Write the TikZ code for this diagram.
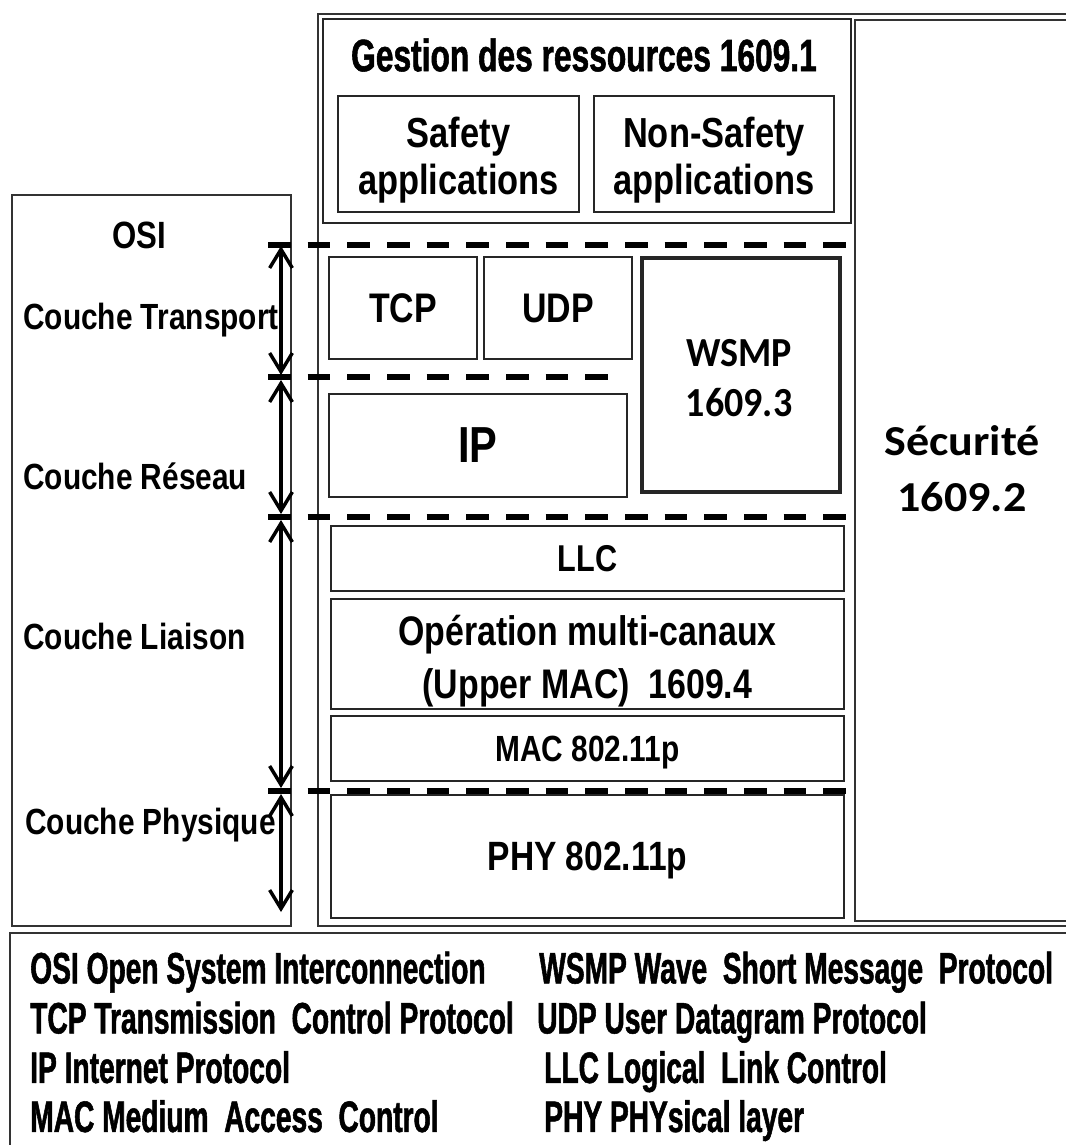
\documentclass[tikz,border=0pt]{standalone}
\usepackage{fontspec}
\setmainfont{Liberation Sans}
\newfontfamily\labfont[FakeStretch=0.82]{Liberation Sans}
\newfontfamily\condfont[FakeStretch=0.64,FakeBold=1.2]{Liberation Sans}
\newfontfamily\titlefont[FakeStretch=0.70,FakeBold=1.2]{Liberation Sans}
\newfontfamily\calfont[FakeStretch=0.92]{Carlito}
\newfontfamily\secfont[FakeStretch=1.08]{Carlito}
\usetikzlibrary{arrows.meta}

\tikzset{
  box/.style={draw=black!85, line width=1.1pt, inner sep=0pt, align=center,
    text depth=0pt, font=\labfont\bfseries\fontsize{31}{35}\selectfont},
  boxtext/.style={inner sep=0pt, align=center},
  frame/.style={draw=black!80, line width=1.1pt},
  layerline/.style={line width=4.2pt, dash pattern=on 17pt off 12.75pt},
  layerspan/.style={line width=2.6pt,
    {Straight Barb[length=14pt,width=17pt]}-{Straight Barb[length=14pt,width=17pt]}},
  couche/.style={anchor=west, inner sep=0pt, text depth=0pt,
    font=\labfont\bfseries\fontsize{27.3}{30}\selectfont},
  legend/.style={anchor=west, inner sep=0pt, text depth=0pt,
    font=\condfont\bfseries\fontsize{33}{40}\selectfont},
}

\begin{document}
\begin{tikzpicture}[x=0.75pt,y=-0.75pt]
\useasboundingbox (0,0) rectangle (1066,1145);
\clip (0,0) rectangle (1066,1145);

% outer frames
\draw[frame] (318,14) rectangle (1090,926);
\draw[frame] (855,20) rectangle (1090,921);
\draw[frame] (12,195) rectangle (291,926);
\draw[frame] (10,933) rectangle (1090,1170);

% resource management block
\node[box, minimum width=396pt, minimum height=153pt] (gestion) at (587,121) {};
\node[font=\titlefont\bfseries\fontsize{34}{40}\selectfont, inner sep=0pt]
  (gtitle) at (584,55) {Gestion des ressources 1609.1};
\node[box, minimum width=180.75pt, minimum height=87pt] (safety) at (458.5,154) {};
\node[boxtext, font=\labfont\bfseries\fontsize{31.5}{35}\selectfont]
  (safetytxt) at (458.5,160) {Safety\\applications};
\node[box, minimum width=180pt, minimum height=87pt] (nonsafety) at (714,154) {};
\node[boxtext, font=\labfont\bfseries\fontsize{31.5}{35}\selectfont]
  (nonsafetytxt) at (714,160) {Non-Safety\\applications};

% transport and network
\node[box, minimum width=111pt, minimum height=76.5pt] (tcp) at (403,308) {TCP};
\node[box, minimum width=111pt, minimum height=76.5pt] (udp) at (558,308) {UDP};
\node[box, line width=2.8pt, minimum width=148.5pt, minimum height=175.5pt]
  (wsmp) at (741,375) {};
\node[boxtext, font=\calfont\bfseries\fontsize{31}{37.5}\selectfont]
  (wsmptxt) at (739,378) {WSMP\\1609.3};
\node[box, font=\labfont\bfseries\fontsize{38}{40}\selectfont,
  minimum width=223.5pt, minimum height=77.25pt] (ip) at (478,445.5) {IP};

% link and physical
\node[box, font=\labfont\bfseries\fontsize{28}{30}\selectfont,
  minimum width=384.75pt, minimum height=48.75pt] (llc) at (587.5,558.5) {LLC};
\node[box, minimum width=384.75pt, minimum height=82.5pt] (oper) at (587.5,654) {};
\node[boxtext, font=\labfont\bfseries\fontsize{31}{40}\selectfont]
  (opertxt) at (587.5,661) {Opération multi-canaux\\(Upper MAC)~ 1609.4};
\node[box, font=\labfont\bfseries\fontsize{27.3}{30}\selectfont,
  minimum width=384.75pt, minimum height=48.75pt] (mac) at (587.5,748.5) {MAC 802.11p};
\node[box, font=\labfont\bfseries\fontsize{30.7}{35}\selectfont,
  minimum width=384.75pt, minimum height=92.25pt] (phy) at (587.5,856.5) {PHY 802.11p};

% security plane
\node[font=\secfont\bfseries\fontsize{32}{42}\selectfont, align=center, inner sep=0pt]
  (secu) at (962,469) {Sécurité\\1609.2};

% OSI column labels
\node[font=\labfont\bfseries\fontsize{28.5}{30}\selectfont, inner sep=0pt] (osi) at (139,235) {OSI};
\node[couche] (ctrans) at (23,316) {Couche Transport};
\node[couche] (creseau) at (23,476) {Couche Réseau};
\node[couche] (cliaison) at (23,636) {Couche Liaison};
\node[couche] (cphys) at (25,821) {Couche Physique};

% layer boundaries
\coordinate (b1w) at (268,245);   \coordinate (b1e) at (859,245);
\coordinate (b2w) at (268,377);   \coordinate (b2e) at (618,377);
\coordinate (b3w) at (268,517);   \coordinate (b3e) at (859,517);
\coordinate (b4w) at (268,791);   \coordinate (b4e) at (859,791);
\draw[layerline] (b1w) -- (b1e);
\draw[layerline] (b2w) -- (b2e);
\draw[layerline] (b3w) -- (b3e);
\draw[layerline] (b4w) -- (b4e);

% layer extents
\coordinate (a1t) at (281,246); \coordinate (a1b) at (281,375);
\coordinate (a2t) at (281,380); \coordinate (a2b) at (281,514);
\coordinate (a3t) at (281,520); \coordinate (a3b) at (281,788);
\coordinate (a4t) at (281,794); \coordinate (a4b) at (281,912);
\draw[layerspan] (a1t) -- (a1b);
\draw[layerspan] (a2t) -- (a2b);
\draw[layerspan] (a3t) -- (a3b);
\draw[layerspan] (a4t) -- (a4b);

% abbreviations
\node[legend] (l1) at (30,967.5) {OSI Open System Interconnection};
\node[legend] (l2) at (30,1017.5) {TCP Transmission~ Control Protocol};
\node[legend] (l3) at (30,1067) {IP Internet Protocol};
\node[legend] (l4) at (30,1116) {MAC Medium~ Access~ Control};
\node[legend] (r1) at (539,967.5) {WSMP Wave~ Short Message~ Protocol};
\node[legend] (r2) at (537,1017.5) {UDP User Datagram Protocol};
\node[legend] (r3) at (544,1067) {LLC Logical~ Link Control};
\node[legend] (r4) at (544,1116) {PHY PHYsical layer};
\end{tikzpicture}
\end{document}
